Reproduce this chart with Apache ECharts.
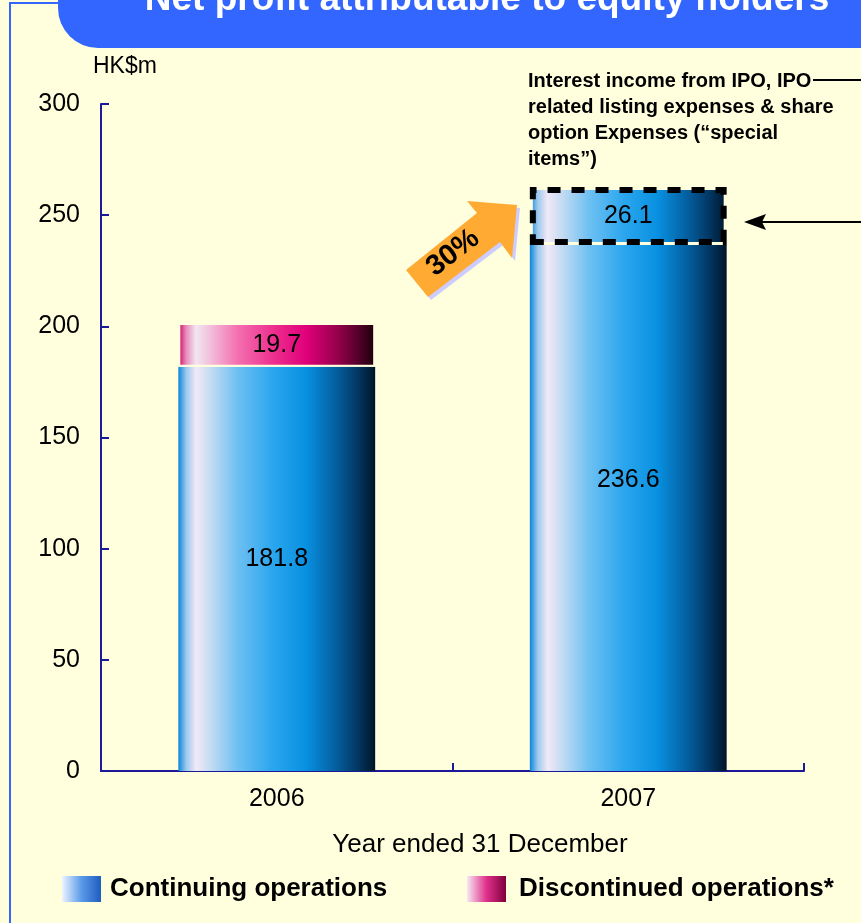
<!DOCTYPE html>
<html><head><meta charset="utf-8">
<script src="https://cdn.jsdelivr.net/npm/echarts@6/dist/echarts.min.js"></script>
<style>html,body{margin:0;padding:0;background:#FFFFDD;}#c{width:861px;height:923px;}</style>
</head><body><div id="c"></div>
<script>
var categories = ['2006', '2007'];
var continuing = [181.8, 236.6];
var discontinued = [19.7, null];
var specialItems = [null, 26.1];
var yTicks = [0, 50, 100, 150, 200, 250, 300];
var growthLabel = '30%';

var chart = echarts.init(document.getElementById('c'), null, {renderer: 'canvas'});
var FONT = 'Liberation Sans, Arial, sans-serif';

function blueGrad() {
  return new echarts.graphic.LinearGradient(0, 0, 1, 0, [
    {offset: 0, color: '#0a86da'}, {offset: 0.04, color: '#9cc8ee'},
    {offset: 0.09, color: '#f1e9f6'}, {offset: 0.16, color: '#c6dcf2'},
    {offset: 0.3, color: '#6ec0f2'}, {offset: 0.48, color: '#2aa6ee'},
    {offset: 0.65, color: '#0890e0'}, {offset: 0.8, color: '#045fa0'},
    {offset: 0.92, color: '#02345e'}, {offset: 1, color: '#011428'}
  ]);
}
function pinkGrad() {
  return new echarts.graphic.LinearGradient(0, 0, 1, 0, [
    {offset: 0, color: '#d2005e'}, {offset: 0.04, color: '#e88cbc'},
    {offset: 0.09, color: '#f2e6f2'}, {offset: 0.16, color: '#f2c0dc'},
    {offset: 0.3, color: '#f470b0'}, {offset: 0.5, color: '#ec2a8c'},
    {offset: 0.65, color: '#e0007a'}, {offset: 0.82, color: '#900048'},
    {offset: 0.93, color: '#4a0024'}, {offset: 1, color: '#1a0008'}
  ]);
}

var contData = continuing.map(function (v, i) {
  var off = i === 0 ? [0, -10] : [0, -28];
  return {value: v, label: {offset: off}};
});
var specData = specialItems.map(function (v) {
  if (v == null) return '-';
  return {value: v, itemStyle: {borderColor: '#000', borderWidth: 6, borderType: [13, 11], borderDashOffset: 2}};
});

var option = {
  backgroundColor: '#FFFFDD',
  animation: false,
  grid: {left: 101, right: 57, top: 104, bottom: 152},
  xAxis: {
    type: 'category', data: categories,
    axisLine: {lineStyle: {color: '#1a1a99', width: 2}},
    axisTick: {show: true, inside: true, length: 8, lineStyle: {color: '#1a1a99', width: 2}},
    axisLabel: {color: '#000', fontSize: 25, fontFamily: FONT, margin: 16}
  },
  yAxis: {
    type: 'value', min: 0, max: 300, interval: 50,
    axisLine: {show: true, lineStyle: {color: '#1a1a99', width: 2}},
    axisTick: {show: true, inside: true, length: 8, lineStyle: {color: '#1a1a99', width: 2}},
    axisLabel: {color: '#000', fontSize: 25, fontFamily: FONT, margin: 21},
    splitLine: {show: false}
  },
  series: [
    {
      name: 'Continuing operations', type: 'bar', stack: 'a', barWidth: '56%',
      data: contData, itemStyle: {color: blueGrad()},
      label: {show: true, position: 'inside', color: '#000', fontSize: 25, fontFamily: FONT}
    },
    {
      name: 'Discontinued operations*', type: 'bar', stack: 'a',
      data: discontinued.map(function (v) { return v == null ? '-' : v; }),
      itemStyle: {color: pinkGrad(), borderColor: '#FFFFDD', borderWidth: 2},
      label: {show: true, position: 'inside', color: '#000', fontSize: 25, fontFamily: FONT}
    },
    {
      name: 'Special items', type: 'bar', stack: 'a',
      data: specData, itemStyle: {color: blueGrad()},
      label: {show: true, position: 'inside', color: '#000', fontSize: 25, fontFamily: FONT}
    }
  ],
  graphic: [
    {type: 'rect', left: 9, top: 2, shape: {width: 2, height: 921}, style: {fill: '#3366FF'}, z: 1},
    {type: 'rect', left: 9, top: 2, shape: {width: 60, height: 2}, style: {fill: '#3366FF'}, z: 1},
    {type: 'rect', shape: {x: 58, y: -80, width: 880, height: 128, r: 40}, style: {fill: '#3366FF'}, z: 2},
    {type: 'text', z: 3, style: {
      text: 'Net profit attributable to equity holders', x: 487, y: 18, align: 'center', verticalAlign: 'bottom',
      fill: '#fff', font: 'bold 37px ' + FONT, textShadowColor: '#000', textShadowOffsetX: 3, textShadowOffsetY: 3, textShadowBlur: 0
    }},
    {type: 'text', z: 3, style: {text: 'HK$m', x: 93, y: 67, verticalAlign: 'middle', fill: '#000', font: '23px ' + FONT}},
    {type: 'text', z: 3, style: {text: 'Year ended 31 December', x: 480, y: 845, align: 'center', verticalAlign: 'middle', fill: '#000', font: '26px ' + FONT}},
    {type: 'text', z: 3, style: {
      text: 'Interest income from IPO, IPO\nrelated listing expenses & share\noption Expenses (\u201cspecial\nitems\u201d)',
      x: 528, y: 68, fill: '#000', font: 'bold 20px ' + FONT, lineHeight: 26
    }},
    {type: 'line', z: 3, shape: {x1: 813, y1: 80, x2: 861, y2: 80}, style: {stroke: '#000', lineWidth: 2}},
    {type: 'line', z: 3, shape: {x1: 760, y1: 222, x2: 861, y2: 222}, style: {stroke: '#000', lineWidth: 2}},
    {type: 'polygon', z: 3, shape: {points: [[744, 222], [766, 214], [762, 222], [766, 230]]}, style: {fill: '#000'}},
    {type: 'polygon', z: 3, shape: {points: [[409, 273], [480, 216], [470, 204], [520, 208], [515, 261], [503, 245], [431, 300]]}, style: {fill: '#ccccff'}},
    {type: 'polygon', z: 4, shape: {points: [[406, 270], [477, 213], [467, 201], [517, 205], [512, 258], [500, 242], [428, 297]]}, style: {fill: '#FFAA33'}},
    {type: 'text', z: 5, x: 453, y: 253, rotation: 0.66, style: {text: growthLabel, align: 'center', verticalAlign: 'middle', fill: '#000', font: 'bold 29px ' + FONT}},
    {type: 'rect', z: 3, shape: {x: 62, y: 876, width: 39, height: 26}, style: {fill: new echarts.graphic.LinearGradient(0, 0, 1, 0, [
      {offset: 0, color: '#eef4ff'}, {offset: 0.5, color: '#5a9ae8'}, {offset: 1, color: '#1e5cc0'}])}},
    {type: 'text', z: 3, style: {text: 'Continuing operations', x: 110, y: 889, verticalAlign: 'middle', fill: '#000', font: 'bold 26px ' + FONT}},
    {type: 'rect', z: 3, shape: {x: 467, y: 876, width: 39, height: 26}, style: {fill: new echarts.graphic.LinearGradient(0, 0, 1, 0, [
      {offset: 0, color: '#f6e8f2'}, {offset: 0.5, color: '#e0308c'}, {offset: 1, color: '#80003c'}])}},
    {type: 'text', z: 3, style: {text: 'Discontinued operations*', x: 519, y: 889, verticalAlign: 'middle', fill: '#000', font: 'bold 26px ' + FONT}}
  ]
};
chart.setOption(option);
</script></body></html>
